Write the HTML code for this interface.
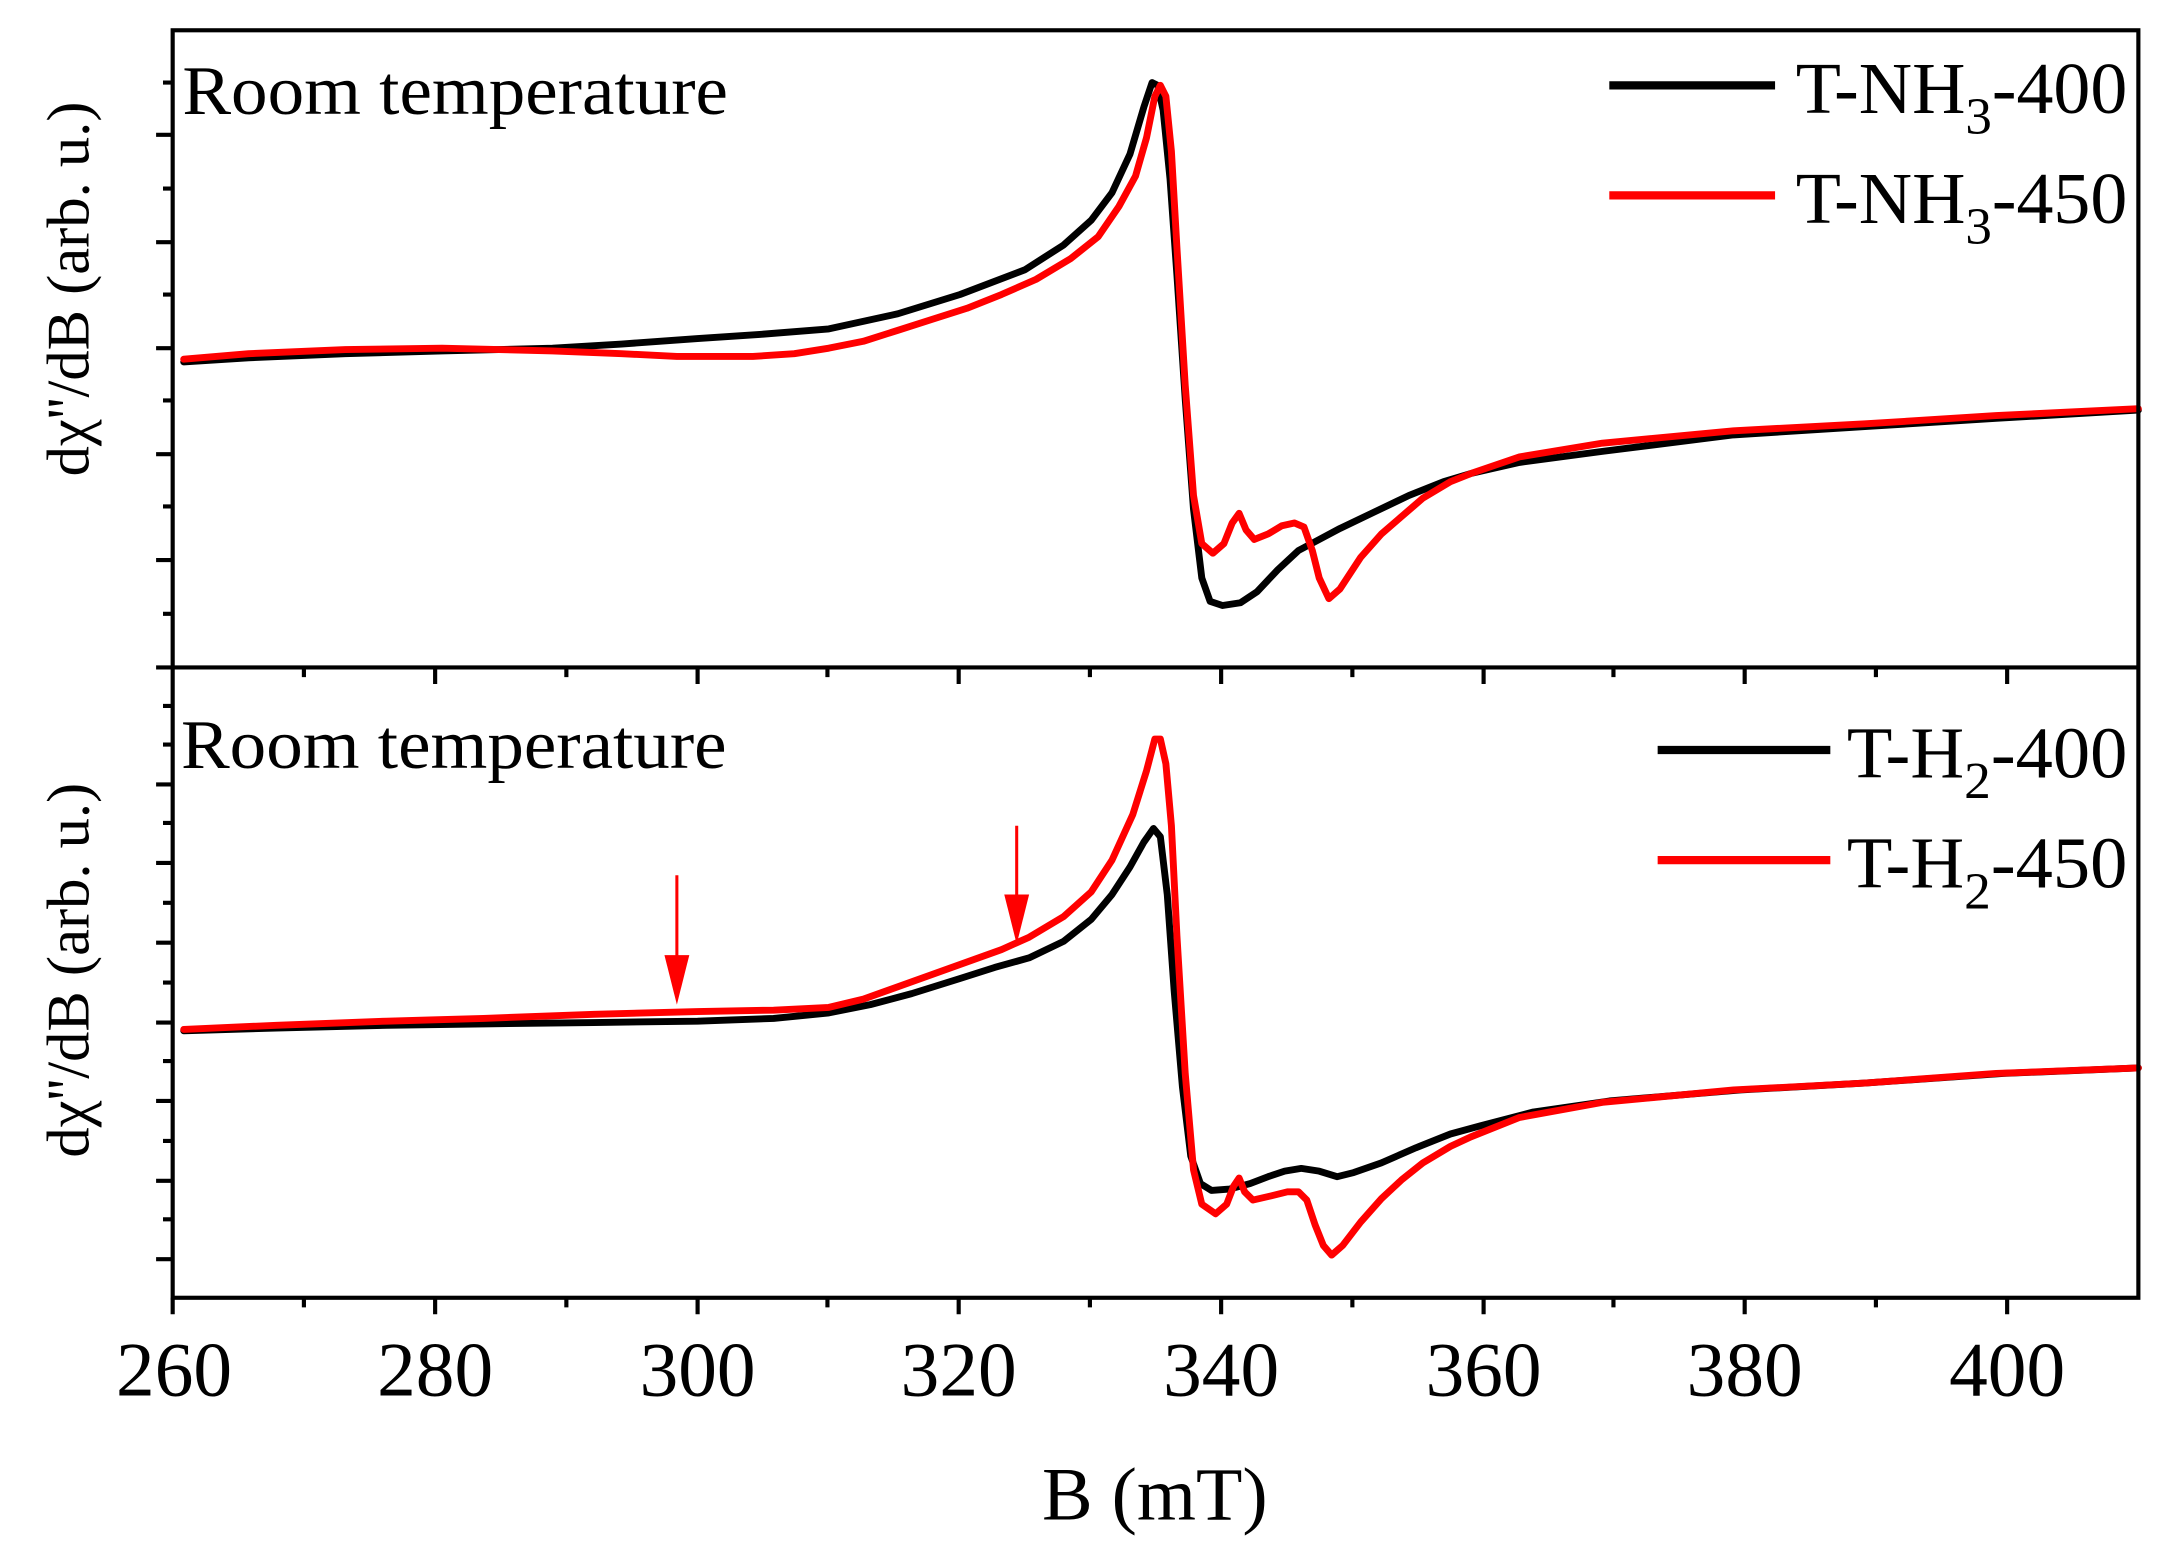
<!DOCTYPE html>
<html><head><meta charset="utf-8"><style>
html,body{margin:0;padding:0;background:#fff}
svg{display:block}
text{font-family:"Liberation Serif",serif;fill:#000}
</style></head><body>
<svg width="2166" height="1562" viewBox="0 0 1568 1135" preserveAspectRatio="none" xmlns="http://www.w3.org/2000/svg">
<g fill="none" stroke-linejoin="round" stroke-linecap="round" stroke-width="5">
<polyline stroke="#000" points="133,263 180,260 250,257 320,255 400,253 450,250 505,246 550,243 600,239 650,228 695,214 742,196 770,178 790,160 805,140 818,112 828,78 834,60 838,62 842,80 847,130 852,200 858,290 864,370 870,420 876,437 885,440 898,438 910,430 925,414 940,400 955,392 970,384 995,372 1020,360 1045,350 1065,344 1100,336 1160,328 1255,316 1350,310 1445,304 1548,298"/>
<polyline stroke="#f00" points="133,261 180,257 250,254 320,253 400,255 450,257 490,259 545,259 575,257 600,253 625,248 650,240 675,232 700,224 725,214 750,203 775,188 795,172 810,150 822,128 830,100 836,70 840,62 844,70 848,110 852,180 858,280 864,360 870,395 878,402 886,395 892,380 897,373 902,385 908,392 918,388 928,382 937,380 944,383 950,400 955,420 962,435 970,428 985,405 1000,388 1015,375 1030,362 1050,350 1065,344 1100,332 1160,322 1255,313 1350,308 1445,302 1548,297"/>
<polyline stroke="#000" points="133,749 200,747 280,745 350,744 430,743 505,742 560,740 600,736 630,730 660,722 695,711 720,703 745,696 770,684 790,668 805,650 818,630 828,612 835,602 840,608 845,650 850,720 856,790 862,840 869,860 877,865 890,864 905,860 918,855 930,851 942,849 955,851 968,855 980,852 1000,845 1025,834 1050,824 1072,818 1110,808 1165,800 1260,792 1350,787 1450,780 1548,776"/>
<polyline stroke="#f00" points="133,748 200,745 280,742 350,740 430,737 505,735 560,734 600,732 625,726 650,717 675,708 700,699 725,690 745,681 770,666 790,648 805,625 820,592 830,560 836,537 840,537 844,555 848,600 852,680 858,780 864,850 870,875 880,882 888,875 893,862 897,856 901,866 907,872 920,869 932,866 940,866 946,872 952,890 958,905 964,912 972,905 985,888 1000,871 1015,857 1030,845 1050,833 1065,826 1100,812 1160,801 1255,792 1350,787 1445,780 1548,776"/>
</g>
<g stroke="#f00" stroke-width="2.2" fill="#f00">
<line x1="490" y1="636" x2="490" y2="712"/>
<polygon points="481,694 499,694 490,730" stroke="none"/>
<line x1="736" y1="600" x2="736" y2="668"/>
<polygon points="727,650 745,650 736,686" stroke="none"/>
</g>
<g stroke="#000" stroke-width="3" fill="none">
<rect x="125" y="22" width="1423" height="921"/>
<line x1="125" y1="485" x2="1548" y2="485"/>
</g>
<g stroke="#000" stroke-width="3">
<path d="M125,943v12 M315,943v12 M505,943v12 M694,943v12 M884,943v12 M1074,943v12 M1263,943v12 M1453,943v12"/>
<path d="M220,943v7 M410,943v7 M599,943v7 M789,943v7 M979,943v7 M1168,943v7 M1358,943v7"/>
<path d="M315,485v12 M505,485v12 M694,485v12 M884,485v12 M1074,485v12 M1263,485v12 M1453,485v12"/>
<path d="M220,485v7 M410,485v7 M599,485v7 M789,485v7 M979,485v7 M1168,485v7 M1358,485v7"/>
<path d="M125,98h-12 M125,176h-12 M125,253h-12 M125,330h-12 M125,407h-12 M125,485h-12"/>
<path d="M125,60h-7 M125,137h-7 M125,214h-7 M125,291h-7 M125,368h-7 M125,446h-7"/>
<path d="M125,570h-12 M125,627h-12 M125,685h-12 M125,743h-12 M125,800h-12 M125,858h-12 M125,915h-12"/>
<path d="M125,513h-7 M125,541h-7 M125,598h-7 M125,656h-7 M125,714h-7 M125,771h-7 M125,829h-7 M125,886h-7"/>
</g>
<g stroke-width="6">
<line x1="1165" y1="62" x2="1285" y2="62" stroke="#000"/>
<line x1="1165" y1="142" x2="1285" y2="142" stroke="#f00"/>
<line x1="1200" y1="545" x2="1325" y2="545" stroke="#000"/>
<line x1="1200" y1="625" x2="1325" y2="625" stroke="#f00"/>
</g>
<g font-size="53">
<text x="1300" y="82" textLength="240" lengthAdjust="spacingAndGlyphs">T-NH<tspan font-size="38" dy="15">3</tspan><tspan dy="-15">-400</tspan></text>
<text x="1300" y="162" textLength="240" lengthAdjust="spacingAndGlyphs">T-NH<tspan font-size="38" dy="15">3</tspan><tspan dy="-15">-450</tspan></text>
<text x="1337" y="565" textLength="203" lengthAdjust="spacingAndGlyphs">T-H<tspan font-size="38" dy="15">2</tspan><tspan dy="-15">-400</tspan></text>
<text x="1337" y="645" textLength="203" lengthAdjust="spacingAndGlyphs">T-H<tspan font-size="38" dy="15">2</tspan><tspan dy="-15">-450</tspan></text>
</g>
<g font-size="51">
<text x="132" y="83" textLength="395" lengthAdjust="spacingAndGlyphs">Room temperature</text>
<text x="131" y="558" textLength="395" lengthAdjust="spacingAndGlyphs">Room temperature</text>
</g>
<g font-size="44">
<text transform="translate(64,210) rotate(-90)" text-anchor="middle">dχ''/dB (arb. u.)</text>
<text transform="translate(64,705) rotate(-90)" text-anchor="middle">dχ''/dB (arb. u.)</text>
</g>
<g font-size="56" text-anchor="middle">
<text x="126" y="1014">260</text><text x="315" y="1014">280</text><text x="505" y="1014">300</text><text x="694" y="1014">320</text><text x="884" y="1014">340</text><text x="1074" y="1014">360</text><text x="1263" y="1014">380</text><text x="1453" y="1014">400</text>
</g>
<text x="836" y="1104" font-size="55" text-anchor="middle">B (mT)</text>
</svg>
</body></html>
